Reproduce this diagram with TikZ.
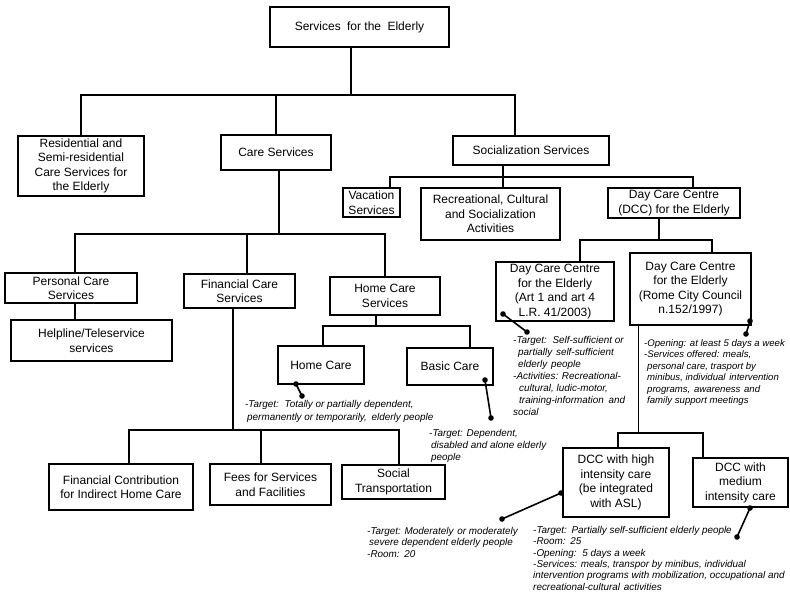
\documentclass[tikz,border=0pt]{standalone}
\usepackage{fontspec}
\setmainfont{Liberation Sans}
\begin{document}
\begin{tikzpicture}[x=1pt,y=-1pt,
  box/.style={draw, line width=1.6pt, fill=white, align=center, inner sep=0pt, outer sep=0pt,
    font=\fontsize{12}{14.5}\selectfont},
  tree/.style={line width=1.5pt},
  pin/.style={line width=1.6pt},
  pindot/.style={radius=2.8pt},
  note/.style={anchor=north west, inner sep=0pt, align=left, font=\fontsize{9.9}{12.1}\selectfont\itshape},
  notetight/.style={note, font=\fontsize{9.9}{11.4}\selectfont\itshape},
]
\useasboundingbox (0,0) rectangle (790,595);

% ---------- boxes ----------
\node[box, minimum width=179, minimum height=40] (top) at (359.5,27) {Services\hspace{3pt} for the\hspace{3pt} Elderly};

\node[box, minimum width=126, minimum height=60] (res) at (81,166) {Residential and\\Semi-residential\\Care Services for\\the Elderly};
\node[box, minimum width=110, minimum height=35] (care) at (276,152.5) {Care Services};
\node[box, minimum width=156, minimum height=29] (soc) at (531,150.5) {Socialization Services};

\node[box, minimum width=57, minimum height=29] (vac) at (371.5,202.5) {Vacation\\Services};
\node[box, minimum width=139, minimum height=52] (rec) at (490.5,214) {Recreational, Cultural\\and Socialization\\Activities};
\node[box, minimum width=132, minimum height=30] (dcc) at (674,203) {Day Care Centre\\(DCC) for the Elderly};

\node[box, minimum width=118, minimum height=59] (dccart) at (555,291.5) {Day Care Centre\\for the Elderly\\(Art 1 and art 4\\L.R. 41/2003)};
\node[box, minimum width=121, minimum height=72] (dccrome) at (690.5,289) {Day Care Centre\\for the Elderly\\(Rome City Council\\n.152/1997)};

\node[box, minimum width=106, minimum height=69] (high) at (616,482.5) {DCC with high\\intensity care\\(be integrated\\with ASL)};
\node[box, minimum width=95, minimum height=49] (med) at (740.5,482.5) {DCC with\\medium\\intensity care};

\node[box, minimum width=132, minimum height=30] (pers) at (71,288) {Personal Care\\Services};
\node[box, minimum width=161, minimum height=41] (help) at (91.5,340.5) {Helpline/Teleservice\\services};
\node[box, minimum width=111, minimum height=34] (fin) at (239.5,291) {Financial Care\\Services};
\node[box, minimum width=110, minimum height=38] (homesvc) at (385,296) {Home Care\\Services};

\node[box, minimum width=86, minimum height=38] (homecare) at (321,365) {Home Care};
\node[box, minimum width=86, minimum height=37] (basic) at (450,366.5) {Basic Care};

\node[box, minimum width=144, minimum height=46] (fincontrib) at (121,487) {Financial Contribution\\for Indirect Home Care};
\node[box, minimum width=121, minimum height=41] (fees) at (270.5,484.5) {Fees for Services\\and Facilities};
\node[box, minimum width=103, minimum height=34] (social) at (393.5,482) {Social\\Transportation};

% ---------- tree connectors ----------
\path ([xshift=-8.5pt]top.south) ++(0,48) coordinate (jtop);
\draw[tree] ([xshift=-8.5pt]top.south) -- (jtop);
\draw[tree] (jtop) -| (res.north);
\draw[tree] (jtop) -| (care.north);
\draw[tree] (jtop) -| ([xshift=-16pt]soc.north);

\path ([xshift=3pt]care.south) ++(0,64) coordinate (jcare);
\draw[tree] ([xshift=3pt]care.south) -- (jcare);
\draw[tree] (jcare) -| ([xshift=4pt]pers.north);
\draw[tree] (jcare) -| ([xshift=7.5pt]fin.north);
\draw[tree] (jcare) -| (homesvc.north);

\draw[tree] ([xshift=4pt]pers.south) -- ([xshift=-16.5pt]help.north);

\path ([xshift=-6.5pt]fin.south) ++(0,122) coordinate (jfin);
\draw[tree] ([xshift=-6.5pt]fin.south) -- (jfin);
\draw[tree] (jfin) -| ([xshift=8pt]fincontrib.north);
\draw[tree] (jfin) -| ([xshift=-9.5pt]fees.north);
\draw[tree] (jfin) -| ([xshift=5.5pt]social.north);

\path ([xshift=-9pt]homesvc.south) ++(0,11) coordinate (jhome);
\draw[tree] ([xshift=-9pt]homesvc.south) -- (jhome);
\draw[tree] (jhome) -| ([xshift=2pt]homecare.north);
\draw[tree] (jhome) -| ([xshift=20pt]basic.north);

\path ([xshift=-28pt]soc.south) ++(0,12) coordinate (jsoc);
\draw[tree] ([xshift=-28pt]soc.south) -- ([xshift=12.5pt]rec.north);
\draw[tree] (jsoc) -| ([xshift=18.5pt]vac.north);
\draw[tree] (jsoc) -| ([xshift=19pt]dcc.north);

\path ([xshift=-15pt]dcc.south) ++(0,22) coordinate (jdcc);
\draw[tree] ([xshift=-15pt]dcc.south) -- (jdcc);
\draw[tree] (jdcc) -| ([xshift=25pt]dccart.north);
\draw[tree] (jdcc) -| ([xshift=21.5pt]dccrome.north);

\path ([xshift=-52pt]dccrome.south) ++(0,108) coordinate (jrome);
\draw[tree] ([xshift=-52pt]dccrome.south) -- (jrome);
\draw[tree] (jrome) -| ([xshift=2pt]high.north);
\draw[tree] (jrome) -| ([xshift=-37.5pt]med.north);

% ---------- annotation pins ----------
\coordinate (hcA) at ([xshift=-25pt]homecare.south);
\coordinate (hcB) at (302,396);
\coordinate (bcA) at (485,380);
\coordinate (bcB) at (491,418);
\coordinate (daA) at (503,314);
\coordinate (daB) at (527,332);
\coordinate (drA) at (750,321);
\coordinate (drB) at (746,334);
\coordinate (hiA) at (561,493);
\coordinate (hiB) at (502,519);
\coordinate (meA) at (750,508);
\coordinate (meB) at (737,537);

\foreach \a/\b in {hcA/hcB, bcA/bcB, daA/daB, drA/drB, hiA/hiB, meA/meB} {
  \draw[pin] (\a) -- (\b);
  \fill[pindot] (\a) circle;
  \fill[pindot] (\b) circle;
}

% ---------- annotation texts ----------
\node[note, font=\fontsize{9.9}{13}\selectfont\itshape] (hcnote) at (245,400)
  {-Target:\hspace{2pt} Totally or partially dependent,\\\hspace*{2pt}permanently or temporarily,\hspace{2pt} elderly people};
\node[note] (bcnote) at (429,429)
  {-Target: Dependent,\\\hspace*{2pt}disabled and alone elderly\\\hspace*{2pt}people};
\node[note] (danote) at (513,336)
  {-Target:\hspace{2pt} Self-sufficient or\\\hspace*{5pt}partially\hspace{1pt} self-sufficient\\\hspace*{5pt}elderly\hspace{1pt} people\\-Activities: Recreational-\\\hspace*{6pt}cultural, ludic-motor,\\\hspace*{6pt}training-information\hspace{2pt} and\\social};
\node[note, font=\fontsize{9.6}{11.5}\selectfont\itshape] (drnote) at (644,339)
  {-Opening: at least 5 days a week\\-Services offered: meals,\\\hspace*{3pt}personal care, trasport by\\\hspace*{3pt}minibus, individual\hspace{1pt} intervention\\\hspace*{3pt}programs,\hspace{1pt} awareness\hspace{1pt} and\\\hspace*{3pt}family support meetings};
\node[notetight] (hinote) at (367,527)
  {-Target: Moderately\hspace{1pt} or moderately\\\hspace*{2pt}severe dependent elderly people\\-Room:\hspace{1pt} 20};
\node[notetight] (menote) at (533,526)
  {-Target:\hspace{1pt} Partially self-sufficient elderly people\\-Room:\hspace{1pt} 25\\-Opening:\hspace{2pt} 5 days a week\\-Services: meals, transpor by minibus, individual\\intervention programs with mobilization, occupational and\\recreational-cultural\hspace{1pt} activities};
\end{tikzpicture}
\end{document}
